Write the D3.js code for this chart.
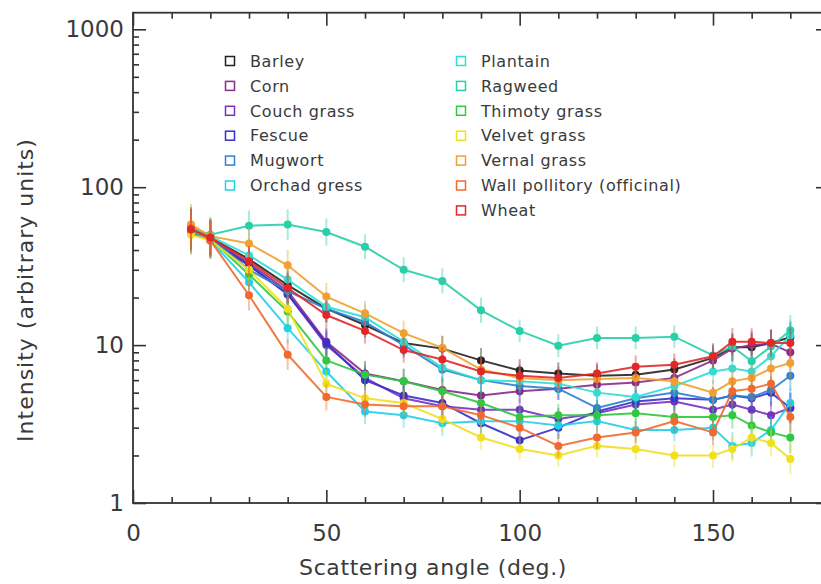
<!DOCTYPE html>
<html>
<head>
<meta charset="utf-8">
<script src="https://cdn.jsdelivr.net/npm/d3@7"></script>
<style>
  body { margin: 0; background: #fff; }
  svg { display: block; overflow: hidden; }
  text { font-family: "DejaVu Sans", sans-serif; fill: #3a3a3a; }
</style>
</head>
<body>
<svg id="chart" width="821" height="584"></svg>
<script>
// scattering angles (deg.)
var angles = [15, 20, 30, 40, 50, 60, 70, 80, 90, 100, 110, 120, 130, 140, 150, 155, 160, 165, 170];
// relative error of each measurement, per angle
var errPct = [0.35, 0.3, 0.25, 0.25, 0.22, 0.2, 0.2, 0.2, 0.2, 0.18, 0.18, 0.18, 0.18, 0.18, 0.2, 0.22, 0.22, 0.22, 0.25];

var barley   = [55, 48, 35, 24, 17, 13.4, 10.3, 9.5, 8.0, 6.9, 6.6, 6.4, 6.5, 7.0, 8.3, 9.7, 9.7, 10.3, 11.2];
var corn     = [53, 47, 33, 22, 10.5, 6.6, 5.9, 5.2, 4.8, 5.1, 5.3, 5.6, 5.8, 6.2, 8.0, 9.5, 10.0, 10.2, 9.0];
var couch    = [51, 47, 32, 21, 10, 6.2, 4.6, 4.1, 3.9, 3.9, 3.4, 3.7, 4.2, 4.4, 3.9, 4.2, 3.9, 3.6, 4.0];
var fescue   = [52, 46, 32, 21, 10.3, 6.0, 4.8, 4.3, 3.2, 2.5, 3.0, 3.8, 4.4, 4.6, 4.5, 4.8, 4.6, 5.0, 4.0];
var mugwort  = [54, 48, 30, 22, 17, 14, 10, 7, 6.0, 5.5, 5.3, 4.0, 4.6, 5.0, 4.5, 4.8, 4.7, 5.2, 6.4];
var orchad   = [53, 46, 25, 12.8, 6.8, 3.8, 3.6, 3.2, 3.3, 3.3, 3.1, 3.3, 2.9, 2.9, 3.0, 2.3, 2.4, 2.9, 4.3];
var plantain = [56, 49, 37, 26, 17.5, 15, 10.5, 7.2, 6.0, 5.9, 5.7, 5.0, 4.7, 5.5, 6.8, 7.1, 6.8, 8.5, 11.5];
var ragweed  = [55, 50, 57, 58, 52, 42, 30, 25.5, 16.6, 12.3, 9.9, 11.1, 11.1, 11.3, 8.6, 9.8, 7.9, 9.8, 12.4];
var thimoty  = [54, 47, 28, 16.3, 8.0, 6.5, 5.9, 5.1, 4.3, 3.5, 3.6, 3.6, 3.7, 3.5, 3.5, 3.6, 3.1, 2.8, 2.6];
var velvet   = [50, 46, 30, 17, 5.7, 4.6, 4.3, 3.4, 2.6, 2.2, 2.0, 2.3, 2.2, 2.0, 2.0, 2.2, 2.6, 2.4, 1.9];
var vernal   = [58, 49, 44, 32, 20.3, 15.9, 11.9, 9.6, 7.0, 6.2, 6.0, 6.1, 6.2, 5.9, 5.0, 5.9, 6.2, 7.1, 7.7];
var wall     = [55, 46, 20.7, 8.7, 4.7, 4.2, 4.1, 4.1, 3.6, 3.0, 2.3, 2.6, 2.8, 3.3, 2.8, 5.1, 5.3, 5.7, 3.5];
var wheat    = [54, 48, 34, 23, 15.5, 12.3, 9.3, 8.1, 6.8, 6.4, 6.2, 6.6, 7.3, 7.5, 8.5, 10.5, 10.5, 10.3, 10.3];

var names = ["Barley", "Corn", "Couch grass", "Fescue", "Mugwort", "Orchad gress",
             "Plantain", "Ragweed", "Thimoty grass", "Velvet grass", "Vernal grass",
             "Wall pollitory (officinal)", "Wheat"];
var values = [barley, corn, couch, fescue, mugwort, orchad, plantain, ragweed,
              thimoty, velvet, vernal, wall, wheat];
var colors = ["#222222", "#8a2a8a", "#7a30c0", "#3a30c8", "#2f80d0", "#22d0e8",
              "#30dcd4", "#28cfa8", "#30c840", "#f0e020", "#f0a030", "#f06a30", "#e02828"];

var xTicks = [0, 50, 100, 150];
var yTicks = [1, 10, 100, 1000];

var svg = d3.select("#chart"),
    plotL = 133, plotR = 829, plotT = 12.7, plotB = 503;

var x = d3.scaleLinear().domain([0, 180]).range([plotL, plotR]);
var y = d3.scaleLog().domain([1, 1274]).range([plotB, plotT]);

var minorX = d3.range(0, 181, 10).filter(function(d) { return d % 50 != 0; });
var minorY = [];
[1, 10, 100, 1000].forEach(function(p) {
  for (var k = 2; k <= 9; k++) if (p * k <= 1274) minorY.push(p * k);
});

function styleAxis(g) {
  g.select(".domain").remove();
  g.selectAll("line").attr("stroke", "#333").attr("stroke-width", 1.6);
  g.selectAll("text").style("font-size", "23px").attr("fill", "#3a3a3a");
}

// bottom / top
svg.append("g").attr("transform", "translate(0," + plotB + ")")
  .call(d3.axisBottom(x).tickValues(xTicks).tickSize(-13).tickSizeOuter(0).tickPadding(22).tickFormat(d3.format("d")))
  .call(styleAxis);
svg.append("g").attr("transform", "translate(0," + plotB + ")")
  .call(d3.axisBottom(x).tickValues(minorX).tickSize(-6).tickSizeOuter(0).tickFormat(""))
  .call(styleAxis);
svg.append("g").attr("transform", "translate(0," + plotT + ")")
  .call(d3.axisTop(x).tickValues(xTicks).tickSize(-13).tickSizeOuter(0).tickFormat(""))
  .call(styleAxis);
svg.append("g").attr("transform", "translate(0," + plotT + ")")
  .call(d3.axisTop(x).tickValues(minorX).tickSize(-6).tickSizeOuter(0).tickFormat(""))
  .call(styleAxis);

// left / right
svg.append("g").attr("transform", "translate(" + plotL + ",0)")
  .call(d3.axisLeft(y).tickValues(yTicks).tickSize(-13).tickSizeOuter(0).tickPadding(9).tickFormat(d3.format("d")))
  .call(styleAxis);
svg.append("g").attr("transform", "translate(" + plotL + ",0)")
  .call(d3.axisLeft(y).tickValues(minorY).tickSize(-6).tickSizeOuter(0).tickFormat(""))
  .call(styleAxis);
svg.append("g").attr("transform", "translate(" + plotR + ",0)")
  .call(d3.axisRight(y).tickValues(yTicks).tickSize(-13).tickSizeOuter(0).tickFormat(""))
  .call(styleAxis);
svg.append("g").attr("transform", "translate(" + plotR + ",0)")
  .call(d3.axisRight(y).tickValues(minorY).tickSize(-6).tickSizeOuter(0).tickFormat(""))
  .call(styleAxis);

svg.append("rect")
  .attr("x", plotL).attr("y", plotT)
  .attr("width", plotR - plotL).attr("height", plotB - plotT)
  .attr("fill", "none").attr("stroke", "#333").attr("stroke-width", 1.8);

// axis titles
svg.append("text")
  .attr("x", 433).attr("y", 575)
  .attr("text-anchor", "middle").style("font-size", "22px")
  .style("letter-spacing", "0.6px")
  .text("Scattering angle (deg.)");
svg.append("text")
  .attr("transform", "translate(33,290) rotate(-90)")
  .attr("text-anchor", "middle").style("font-size", "22px")
  .style("letter-spacing", "1px")
  .text("Intensity (arbitrary units)");

// series
var series = names.map(function(n, i) {
  return {
    name: n, color: colors[i],
    points: angles.map(function(a, j) { return { a: a, v: values[i][j], e: errPct[j], c: colors[i] }; })
  };
});

var line = d3.line()
  .x(function(d) { return x(d.a); })
  .y(function(d) { return y(d.v); });

var sg = svg.selectAll(".series")
  .data(series)
  .enter().append("g")
    .attr("class", "series");

sg.selectAll(".err")
  .data(function(d) { return d.points; })
  .enter().append("line")
    .attr("class", "err")
    .attr("x1", function(d) { return x(d.a); })
    .attr("x2", function(d) { return x(d.a); })
    .attr("y1", function(d) { return y(d.v * (1 + d.e)); })
    .attr("y2", function(d) { return y(d.v / (1 + d.e)); })
    .attr("stroke", function(d) { return d.c; })
    .attr("stroke-width", 2)
    .attr("opacity", 0.4);

sg.append("path")
  .attr("d", function(d) { return line(d.points); })
  .attr("fill", "none")
  .attr("stroke", function(d) { return d.color; })
  .attr("stroke-width", 2)
  .attr("opacity", 0.9);

sg.selectAll("circle")
  .data(function(d) { return d.points; })
  .enter().append("circle")
    .attr("cx", function(d) { return x(d.a); })
    .attr("cy", function(d) { return y(d.v); })
    .attr("r", 4)
    .attr("fill", function(d) { return d.c; });

// legend, two columns
var leg = svg.selectAll(".leg")
  .data(series)
  .enter().append("g")
    .attr("class", "leg")
    .attr("transform", function(d, i) {
      var col = i < 6 ? 0 : 1, row = i < 6 ? i : i - 6;
      return "translate(" + (col ? 461 : 230) + "," + (61 + row * 24.9) + ")";
    });

leg.append("rect")
  .attr("x", -4.5).attr("y", -4.5).attr("width", 9).attr("height", 9)
  .attr("fill", "none")
  .attr("stroke", function(d) { return d.color; })
  .attr("stroke-width", 1.5);

leg.append("text")
  .attr("x", 20).attr("dy", "0.36em")
  .style("font-size", "16px")
  .style("letter-spacing", "0.6px")
  .text(function(d) { return d.name; });
</script>
</body>
</html>
